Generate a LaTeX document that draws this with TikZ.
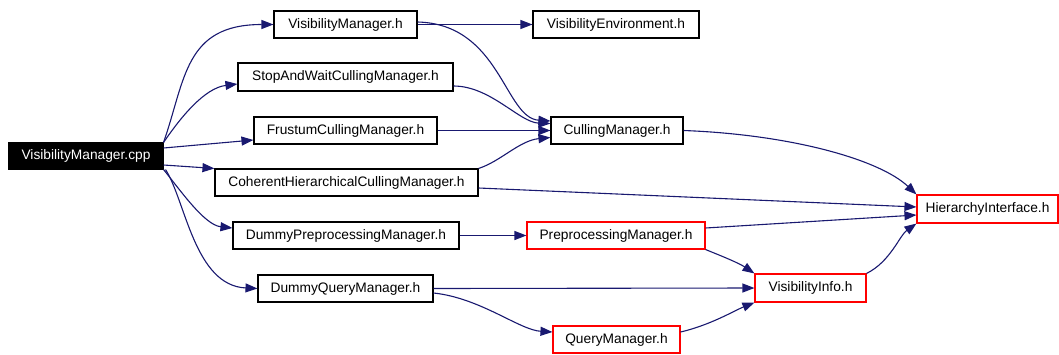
\documentclass[tikz,border=0pt]{standalone}
\usepackage{fontspec}
\setmainfont{Liberation Sans}
\usetikzlibrary{arrows.meta,calc}
\definecolor{edgeblue}{RGB}{25,25,112}
\begin{document}
\begin{tikzpicture}[x=1pt,y=-1pt,
  every node/.style={font=\fontsize{13.75}{16}\selectfont},
  box/.style={draw=black,line width=1.1pt,fill=white,inner sep=0pt,minimum height=27pt,anchor=center},
  redbox/.style={box,draw=red},
  rootbox/.style={box,fill=black,text=white},
  edge/.style={draw=edgeblue,line width=1.1pt,-{Triangle[length=12pt,width=9pt]}}]
\useasboundingbox (0,0) rectangle (1059,354);
% nodes
\node[rootbox,minimum width=154pt,minimum height=26pt] (cpp) at (86,156) {VisibilityManager.cpp};
\node[box,minimum width=143pt] (vmh) at (345.5,24.5) {VisibilityManager.h};
\node[box,minimum width=166pt] (venv) at (616,24.5) {VisibilityEnvironment.h};
\node[box,minimum width=215pt,minimum height=28pt] (saw) at (345.5,77) {StopAndWaitCullingManager.h};
\node[box,minimum width=183pt] (fcm) at (345.5,130.5) {FrustumCullingManager.h};
\node[box,minimum width=263pt] (chcm) at (346.5,182.5) {CoherentHierarchicalCullingManager.h};
\node[box,minimum width=226pt] (dpm) at (346,235.5) {DummyPreprocessingManager.h};
\node[box,minimum width=175pt] (dqm) at (345.5,288.5) {DummyQueryManager.h};
\node[box,minimum width=132pt] (cm) at (617,130.5) {CullingManager.h};
\node[redbox,minimum width=178pt] (pm) at (616,235.5) {PreprocessingManager.h};
\node[redbox,minimum width=127pt] (qm) at (616.5,339.5) {QueryManager.h};
\node[redbox,minimum width=111pt,minimum height=28pt] (vi) at (810.5,288) {VisibilityInfo.h};
\node[redbox,minimum width=141pt,minimum height=28pt] (hi) at (987.5,209) {HierarchyInterface.h};
% edges
\draw[edge] (cpp.north east) .. controls +(22,-63) and +(-89,0) .. (vmh.west);
\draw[edge] (cpp.north east) .. controls +(17,-25) and +(-33,4) .. ($(saw.west)+(0,7)$);
\draw[edge] ($(cpp.east)+(0,-8)$) -- ($(fcm.west)+(0,9.5)$);
\draw[edge] ($(cpp.east)+(0,9)$) -- (chcm.north west);
\draw[edge] (cpp.south east) .. controls +(17,21) and +(-28,-3) .. ($(dpm.west)+(0,-7.5)$);
\draw[edge] ($(cpp.south east)+(2,0)$) .. controls +(20,31) and +(-63,-3) .. (dqm.west);
\draw[edge] (vmh.east) -- (venv.west);
\draw[edge] ($(vmh.east)+(0,-2.5)$) .. controls +(83,2) and +(-46,-3) .. ($(cm.west)+(0,-9.5)$);
\draw[edge] ($(saw.east)+(0,9)$) .. controls +(37,0) and +(-31,-1) .. ($(cm.west)+(0,-7)$);
\draw[edge] (fcm.east) -- (cm.west);
\draw[edge] (chcm.north east) .. controls +(22,-7) and +(-31,3) .. ($(cm.west)+(0,7)$);
\draw[edge] (cm.east) .. controls +(107,4) and +(-37,-35) .. (hi.north west);
\draw[edge] ($(chcm.east)+(0,5.5)$) -- ($(hi.west)+(0,-2)$);
\draw[edge] ($(pm.east)+(0,-7.5)$) -- ($(hi.west)+(0,6)$);
\draw[edge] (dpm.east) -- (pm.west);
\draw[edge] (pm.south east) .. controls +(20,8) and +(-15,-10) .. (vi.north west);
\draw[edge] (dqm.east) -- (vi.west);
\draw[edge] ($(dqm.east)+(0,4.5)$) .. controls +(47,5) and +(-33,-2) .. ($(qm.west)+(0,-7.5)$);
\draw[edge] ($(qm.east)+(0,-7.5)$) .. controls +(30,-7) and +(-20,8) .. (vi.south west);
\draw[edge] (vi.north east) .. controls +(24,-12) and +(-17,12) .. (hi.south west);
\end{tikzpicture}
\end{document}
